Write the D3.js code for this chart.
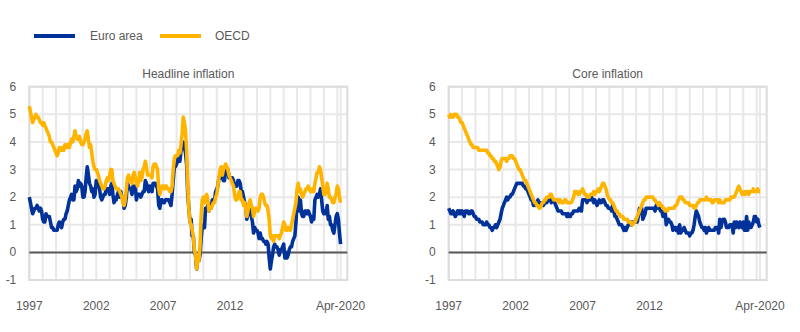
<!DOCTYPE html>
<html>
<head>
<meta charset="utf-8">
<script src="https://cdn.jsdelivr.net/npm/d3@7.9.0/dist/d3.min.js"></script>
<style>
  html, body { margin: 0; padding: 0; background: #fff; }
  svg { display: block; font-family: "Liberation Sans", Arial, sans-serif; }
  .tick-label, .panel-title, .legend-label { fill: #595959; font-size: 12px; }
</style>
</head>
<body>
<svg id="chart" width="800" height="332"></svg>
<script>
// monthly year-on-year rates, Jan 1997 - Apr 2020
const headlineEuro = [
  2.0,1.8,1.6,1.4,1.5,1.6,1.6,1.7,1.6,1.5,1.6,1.5,
  1.2,1.1,1.1,1.4,1.3,1.3,1.3,1.1,0.9,0.9,0.8,0.8,
  0.8,0.8,1.0,1.1,1.0,0.9,1.1,1.2,1.2,1.4,1.5,1.7,
  1.9,2.0,2.1,1.9,1.9,2.4,2.2,2.3,2.6,2.4,2.5,2.4,
  2.0,2.0,2.2,2.7,3.1,2.8,2.5,2.4,2.2,2.3,2.0,2.1,
  2.6,2.4,2.5,2.3,2.0,1.9,2.0,2.1,2.1,2.3,2.3,2.3,
  2.1,2.4,2.5,2.1,1.8,1.9,1.9,2.1,2.2,2.0,2.2,2.0,
  1.9,1.6,1.7,2.0,2.5,2.4,2.3,2.3,2.1,2.4,2.2,2.4,
  1.9,2.1,2.1,2.1,2.0,2.1,2.2,2.2,2.6,2.5,2.3,2.2,
  2.4,2.3,2.2,2.5,2.5,2.5,2.4,2.3,1.7,1.6,1.9,1.9,
  1.8,1.8,1.9,1.9,1.9,1.9,1.8,1.7,2.1,2.6,3.1,3.1,
  3.2,3.3,3.6,3.3,3.7,4.0,4.0,3.8,3.6,3.2,2.1,1.6,
  1.1,1.2,0.6,0.6,0.0,-0.1,-0.6,-0.2,-0.3,-0.1,0.5,0.9,
  1.0,0.9,1.6,1.6,1.7,1.5,1.7,1.6,1.9,1.9,1.9,2.2,
  2.3,2.4,2.7,2.8,2.7,2.7,2.6,2.6,3.0,3.0,3.0,2.7,
  2.7,2.7,2.7,2.6,2.4,2.4,2.4,2.6,2.6,2.5,2.2,2.2,
  2.0,1.8,1.7,1.2,1.4,1.6,1.6,1.3,1.1,0.7,0.9,0.8,
  0.8,0.7,0.5,0.7,0.5,0.5,0.4,0.4,0.3,0.4,0.3,-0.2,
  -0.6,-0.3,-0.1,0.2,0.3,0.2,0.2,0.1,-0.1,0.1,0.1,0.2,
  0.3,-0.2,0.0,-0.2,-0.1,0.1,0.2,0.2,0.4,0.5,0.6,1.1,
  1.8,2.0,1.5,1.9,1.4,1.3,1.3,1.5,1.5,1.4,1.5,1.4,
  1.3,1.1,1.3,1.2,1.9,2.0,2.1,2.0,2.1,2.3,1.9,1.5,
  1.4,1.5,1.4,1.7,1.2,1.3,1.0,1.0,0.8,0.7,1.0,1.3,
  1.4,1.2,0.7,0.3
];

const headlineOecd = [
  5.3,5.1,4.9,4.7,4.8,4.9,5.0,4.9,4.9,4.8,4.7,4.7,
  4.6,4.7,4.6,4.5,4.4,4.3,4.2,4.0,4.0,3.9,3.8,3.7,
  3.6,3.5,3.6,3.8,3.7,3.7,3.8,3.7,3.9,3.9,3.8,3.9,
  3.8,4.0,4.1,4.0,4.2,4.4,4.2,4.1,4.1,4.2,4.0,3.9,
  3.9,4.0,4.1,4.3,4.4,4.1,3.8,3.9,3.6,3.3,3.1,3.0,
  3.0,2.9,2.8,2.6,2.5,2.4,2.3,2.3,2.4,2.6,2.7,2.6,
  2.8,3.0,3.0,2.6,2.5,2.4,2.3,2.3,2.3,2.2,2.1,2.0,
  1.8,1.7,1.9,2.3,2.7,2.8,2.6,2.6,2.5,2.8,2.9,2.7,
  2.5,2.4,2.6,2.9,2.6,2.7,3.0,3.1,3.3,3.1,2.8,2.8,
  2.8,2.8,2.7,3.1,3.2,3.2,3.1,3.0,2.3,2.1,2.3,2.4,
  2.4,2.3,2.4,2.4,2.3,2.3,2.2,2.2,2.4,3.0,3.4,3.5,
  3.5,3.5,3.7,3.6,3.9,4.3,4.9,4.7,4.4,3.7,2.4,1.6,
  1.1,1.0,0.8,0.6,0.1,-0.1,-0.6,-0.3,-0.3,0.2,1.3,1.9,
  2.0,1.8,2.0,2.1,1.9,1.5,1.6,1.6,1.7,1.8,1.8,2.0,
  2.1,2.4,2.7,3.0,3.1,2.8,3.0,3.1,3.2,3.1,3.0,2.8,
  2.7,2.6,2.5,2.4,2.1,1.9,1.9,2.0,2.2,2.2,1.9,1.9,
  1.7,1.8,1.6,1.3,1.5,1.8,1.9,1.7,1.6,1.3,1.5,1.6,
  1.6,1.5,1.6,2.0,2.1,2.1,2.0,1.8,1.7,1.7,1.5,1.2,
  0.6,0.5,0.6,0.4,0.6,0.6,0.6,0.6,0.5,0.6,0.7,0.9,
  1.1,1.0,0.8,0.8,0.9,0.9,0.8,1.0,1.2,1.4,1.6,1.8,
  2.3,2.5,2.2,2.3,2.1,2.0,2.1,2.2,2.3,2.3,2.4,2.3,
  2.2,2.2,2.3,2.2,2.5,2.7,2.9,2.9,3.1,3.0,2.7,2.4,
  2.1,2.1,2.3,2.5,2.3,2.0,2.0,1.9,1.8,1.8,2.0,2.1,
  2.4,2.3,2.0,1.8
];

const coreEuro = [
  1.6,1.5,1.4,1.4,1.5,1.4,1.3,1.4,1.5,1.4,1.5,1.4,
  1.5,1.4,1.3,1.5,1.5,1.5,1.4,1.4,1.5,1.5,1.4,1.3,
  1.3,1.2,1.2,1.2,1.1,1.1,1.1,1.0,1.0,1.0,1.1,1.0,
  1.0,0.9,0.9,0.8,0.9,0.9,1.0,0.9,1.0,1.1,1.2,1.4,
  1.6,1.7,1.8,1.9,2.0,1.9,2.0,2.0,2.1,2.1,2.2,2.3,
  2.4,2.5,2.5,2.5,2.5,2.5,2.5,2.4,2.4,2.3,2.3,2.2,
  2.1,2.0,1.9,1.9,1.7,1.8,1.7,1.8,1.9,1.8,1.7,1.8,
  1.8,1.7,1.8,1.9,1.8,1.9,1.9,1.9,1.8,1.9,1.9,1.8,
  1.7,1.6,1.5,1.5,1.5,1.5,1.4,1.4,1.4,1.4,1.3,1.4,
  1.3,1.3,1.4,1.4,1.5,1.5,1.5,1.5,1.5,1.6,1.6,1.5,
  1.9,1.9,1.9,1.9,1.8,1.9,1.9,1.9,2.0,1.9,1.8,1.9,
  1.8,1.7,1.8,1.9,1.8,1.8,1.9,1.9,1.8,1.7,1.7,1.6,
  1.6,1.6,1.5,1.7,1.5,1.3,1.3,1.2,1.1,1.0,1.0,1.0,
  0.9,0.8,0.9,0.8,0.9,1.0,1.0,1.1,1.0,1.1,1.1,1.1,
  1.2,1.1,1.3,1.6,1.5,1.6,1.2,1.3,1.4,1.6,1.6,1.6,
  1.6,1.6,1.6,1.6,1.6,1.5,1.7,1.7,1.6,1.6,1.5,1.5,
  1.3,1.3,1.5,1.0,1.2,1.2,1.1,1.1,1.0,0.8,0.9,0.9,
  0.8,0.9,0.7,1.0,0.7,0.8,0.8,0.9,0.8,0.7,0.7,0.7,
  0.6,0.7,0.7,0.8,1.0,1.3,1.5,1.4,1.3,1.1,1.0,0.9,
  0.9,0.8,0.9,0.7,0.8,0.9,0.8,0.8,0.8,0.8,0.8,0.9,
  0.9,0.9,0.7,1.2,0.9,1.1,1.2,1.2,1.1,0.9,0.9,0.9,
  1.0,1.0,1.0,0.7,1.1,0.9,1.1,1.0,0.9,1.1,1.0,0.9,
  1.1,0.8,0.8,1.3,0.8,1.1,0.9,0.9,1.0,1.1,1.3,1.3,
  1.1,1.2,1.0,0.9
];

const coreOecd = [
  5.0,4.9,5.0,4.9,4.9,5.0,5.0,5.0,4.9,4.9,4.8,4.7,
  4.7,4.6,4.5,4.4,4.3,4.2,4.1,4.0,3.9,3.9,3.8,3.8,
  3.8,3.8,3.8,3.7,3.7,3.7,3.7,3.7,3.7,3.7,3.7,3.6,
  3.6,3.5,3.5,3.4,3.4,3.3,3.3,3.2,3.1,3.0,3.1,3.3,
  3.4,3.4,3.4,3.4,3.3,3.4,3.4,3.5,3.5,3.5,3.4,3.4,
  3.3,3.2,3.1,3.0,3.0,2.9,2.8,2.7,2.6,2.6,2.5,2.4,
  2.3,2.2,2.1,2.0,1.9,1.8,1.8,1.7,1.7,1.6,1.6,1.7,
  1.8,1.8,1.9,1.9,2.0,2.0,2.0,2.1,2.1,2.0,1.9,1.9,
  1.9,1.9,1.9,1.8,1.9,1.8,1.8,1.8,1.9,1.9,1.8,1.8,
  1.8,1.8,1.8,1.9,2.0,2.2,2.2,2.2,2.1,2.1,2.2,2.2,
  2.3,2.2,2.1,2.1,2.0,2.0,2.0,2.1,2.1,2.1,2.2,2.1,
  2.2,2.2,2.3,2.2,2.3,2.4,2.5,2.5,2.4,2.3,2.1,2.0,
  1.9,1.9,1.8,1.8,1.7,1.6,1.5,1.5,1.4,1.4,1.3,1.3,
  1.3,1.2,1.2,1.2,1.2,1.1,1.1,1.1,1.0,1.0,1.1,1.1,
  1.2,1.3,1.4,1.5,1.6,1.7,1.8,1.9,1.9,2.0,2.0,2.0,
  2.0,2.0,2.0,2.0,1.9,1.9,1.8,1.8,1.7,1.8,1.7,1.7,
  1.6,1.6,1.5,1.5,1.5,1.6,1.6,1.6,1.6,1.6,1.6,1.7,
  1.7,1.8,1.9,2.0,2.0,2.0,1.9,1.9,1.8,1.8,1.8,1.8,
  1.7,1.7,1.7,1.7,1.6,1.6,1.7,1.8,1.8,1.9,1.9,1.9,
  1.9,1.9,1.9,2.0,1.9,1.9,1.9,1.9,1.8,1.8,1.9,1.9,
  1.9,1.9,1.8,1.9,1.8,1.8,1.8,1.8,1.9,1.9,1.9,1.9,
  1.9,2.0,2.0,2.0,2.0,2.1,2.2,2.3,2.4,2.3,2.2,2.1,
  2.1,2.2,2.1,2.2,2.2,2.1,2.2,2.2,2.2,2.3,2.2,2.2,
  2.2,2.3,2.2,2.2
];

const seriesNames = ['Euro area', 'OECD'];
const seriesColors = ['#003299', '#ffb400'];
const panelTitles = ['Headline inflation', 'Core inflation'];
const yTicks = [-1, 0, 1, 2, 3, 4, 5, 6];
const xTickLabels = ['1997', '2002', '2007', '2012', 'Apr-2020'];
const xTickDates = [new Date(1997, 0, 1), new Date(2002, 0, 1), new Date(2007, 0, 1),
                    new Date(2012, 0, 1), new Date(2020, 3, 1)];

const months = headlineEuro.map((_, i) => new Date(1997, i, 1));

const svg = d3.select('#chart');

// legend
const legend = svg.append('g').attr('class', 'legend');
[[34, 90], [160, 215]].forEach(([lx, tx], i) => {
  legend.append('line')
    .attr('x1', lx).attr('x2', lx + 41)
    .attr('y1', 36).attr('y2', 36)
    .attr('stroke', seriesColors[i])
    .attr('stroke-width', 4);
  legend.append('text')
    .attr('class', 'legend-label')
    .attr('x', tx).attr('y', 40)
    .text(seriesNames[i]);
});

function drawPanel(left, title, data) {
  const width = 318;
  const x = d3.scaleTime()
    .domain([new Date(1997, 0, 1), new Date(2020, 9, 1)])
    .range([left, left + width]);
  const y = d3.scaleLinear().domain([-1, 6]).range([280, 86.7]);

  const g = svg.append('g');

  g.append('text')
    .attr('class', 'panel-title')
    .attr('x', left + width / 2).attr('y', 78)
    .attr('text-anchor', 'middle')
    .text(title);

  // yearly vertical grid plus the last observation
  const gridDates = d3.timeYear.range(new Date(1997, 0, 1), new Date(2020, 1, 1))
    .concat([new Date(2020, 3, 1)]);
  g.selectAll('.vgrid')
    .data(gridDates)
    .join('line')
    .attr('x1', d => x(d)).attr('x2', d => x(d))
    .attr('y1', y(6)).attr('y2', y(-1))
    .attr('stroke', '#e8e8e8')
    .attr('stroke-width', 2);

  g.selectAll('.hgrid')
    .data(yTicks)
    .join('line')
    .attr('x1', left).attr('x2', left + width)
    .attr('y1', d => y(d)).attr('y2', d => y(d))
    .attr('stroke', '#e8e8e8')
    .attr('stroke-width', 2);

  g.append('rect')
    .attr('x', left).attr('y', y(6))
    .attr('width', width).attr('height', y(-1) - y(6))
    .attr('fill', 'none')
    .attr('stroke', '#dcdcdc')
    .attr('stroke-width', 2);

  g.append('line')
    .attr('x1', left).attr('x2', left + width)
    .attr('y1', y(0)).attr('y2', y(0))
    .attr('stroke', '#5a5a5a')
    .attr('stroke-width', 2);

  g.selectAll('.ylab')
    .data(yTicks)
    .join('text')
    .attr('class', 'tick-label')
    .attr('x', left - 13)
    .attr('y', d => y(d) + 4)
    .attr('text-anchor', 'end')
    .text(d => d);

  g.selectAll('.xlab')
    .data(xTickDates)
    .join('text')
    .attr('class', 'tick-label')
    .attr('x', d => x(d))
    .attr('y', 310)
    .attr('text-anchor', 'middle')
    .text((d, i) => xTickLabels[i]);

  const line = d3.line()
    .x((d, i) => x(months[i]))
    .y(d => y(d));

  data.forEach((values, i) => {
    g.append('path')
      .attr('d', line(values))
      .attr('fill', 'none')
      .attr('stroke', seriesColors[i])
      .attr('stroke-width', 3.6)
      .attr('stroke-linejoin', 'round');
  });
}

drawPanel(29.3, panelTitles[0], [headlineEuro, headlineOecd]);
drawPanel(448.7, panelTitles[1], [coreEuro, coreOecd]);
</script>
</body>
</html>
